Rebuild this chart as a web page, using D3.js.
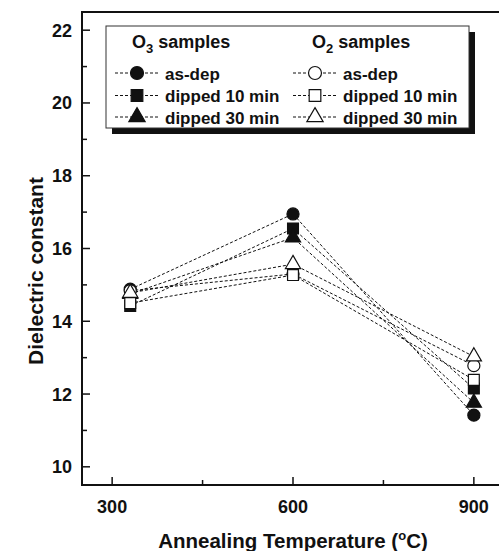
<!DOCTYPE html>
<html>
<head>
<meta charset="utf-8">
<script src="https://cdn.jsdelivr.net/npm/d3@7"></script>
<style>
  body { margin: 0; background: #fff; }
  text { font-family: "Liberation Sans", Arial, sans-serif; font-weight: bold; fill: #111; }
</style>
</head>
<body>
<div id="chart"></div>
<script>
  // annealing temperatures (°C)
  const temps = [330, 600, 900];
  // series, drawn in this order (open markers end up on top)
  const seriesNames = ["O3 as-dep", "O3 dipped 10 min", "O3 dipped 30 min",
                       "O2 as-dep", "O2 dipped 10 min", "O2 dipped 30 min"];
  const o3AsDep = [14.88, 16.95, 11.42];
  const o3Dip10 = [14.42, 16.55, 12.15];
  const o3Dip30 = [14.75, 16.3, 11.76];
  const o2AsDep = [14.84, 15.3, 12.78];
  const o2Dip10 = [14.5, 15.27, 12.39];
  const o2Dip30 = [14.78, 15.57, 13.03];
  const yTicks = [10, 12, 14, 16, 18, 20, 22];
  const xTicks = [300, 600, 900];

  (function () {
    const seriesValues = [o3AsDep, o3Dip10, o3Dip30, o2AsDep, o2Dip10, o2Dip30];
    const shapes = [d3.symbolCircle, d3.symbolSquare, d3.symbolTriangle,
                    d3.symbolCircle, d3.symbolSquare, d3.symbolTriangle];
    const sizeOf = s => s === d3.symbolCircle ? 115 : s === d3.symbolSquare ? 118 : 100;

    const series = seriesNames.map((name, i) => ({
      name: name,
      filled: i < 3,
      shape: shapes[i],
      points: temps.map((t, j) => ({ t: t, v: seriesValues[i][j] }))
    }));

    const W = 499, H = 551;
    const mLeft = 82, mTop = 12, mBottom = 485, mRight = 504;

    const svg = d3.select("#chart").append("svg")
      .attr("width", W)
      .attr("height", H);

    const x = d3.scaleLinear().domain([250, 950]).range([mLeft, mRight]);
    const y = d3.scaleLinear().domain([9.5, 22.5]).range([mBottom, mTop]);

    // frame
    svg.append("rect")
      .attr("x", mLeft).attr("y", mTop)
      .attr("width", mRight - mLeft).attr("height", mBottom - mTop)
      .attr("fill", "none").attr("stroke", "#111").attr("stroke-width", 2);

    // y ticks (inward)
    const yMinor = d3.range(11, 23, 2);
    svg.append("g").selectAll("line").data(yTicks).enter().append("line")
      .attr("x1", mLeft).attr("x2", mLeft + 8)
      .attr("y1", d => y(d)).attr("y2", d => y(d))
      .attr("stroke", "#111").attr("stroke-width", 1.5);
    svg.append("g").selectAll("line").data(yMinor).enter().append("line")
      .attr("x1", mLeft).attr("x2", mLeft + 5)
      .attr("y1", d => y(d)).attr("y2", d => y(d))
      .attr("stroke", "#111").attr("stroke-width", 1.5);
    svg.append("g").selectAll("text").data(yTicks).enter().append("text")
      .attr("x", mLeft - 10).attr("y", d => y(d))
      .attr("dy", "0.36em")
      .attr("text-anchor", "end")
      .style("font-size", "18px")
      .text(d => d);

    // x ticks (inward)
    const xMinor = [450, 750];
    svg.append("g").selectAll("line").data(xTicks).enter().append("line")
      .attr("x1", d => x(d)).attr("x2", d => x(d))
      .attr("y1", mBottom).attr("y2", mBottom - 8)
      .attr("stroke", "#111").attr("stroke-width", 1.5);
    svg.append("g").selectAll("line").data(xMinor).enter().append("line")
      .attr("x1", d => x(d)).attr("x2", d => x(d))
      .attr("y1", mBottom).attr("y2", mBottom - 5)
      .attr("stroke", "#111").attr("stroke-width", 1.5);
    svg.append("g").selectAll("text").data(xTicks).enter().append("text")
      .attr("x", d => x(d)).attr("y", 513)
      .attr("text-anchor", "middle")
      .style("font-size", "18px")
      .text(d => d);

    // axis titles
    const xt = svg.append("text")
      .attr("x", 293).attr("y", 548)
      .attr("text-anchor", "middle")
      .style("font-size", "20.5px");
    xt.append("tspan").text("Annealing Temperature (");
    xt.append("tspan").attr("dy", -8).style("font-size", "13px").text("o");
    xt.append("tspan").attr("dy", 8).text("C)");

    svg.append("text")
      .attr("transform", "translate(43,271) rotate(-90)")
      .attr("text-anchor", "middle")
      .style("font-size", "21px")
      .text("Dielectric constant");

    // dashed lines
    const line = d3.line().x(d => x(d.t)).y(d => y(d.v));
    svg.append("g").selectAll("path").data(series).enter().append("path")
      .attr("d", d => line(d.points))
      .attr("fill", "none")
      .attr("stroke", "#111")
      .attr("stroke-width", 1)
      .attr("stroke-dasharray", "3,2");

    // markers
    series.forEach(s => {
      svg.append("g").selectAll("path").data(s.points).enter().append("path")
        .attr("transform", d => `translate(${x(d.t)},${y(d.v)})`)
        .attr("d", d3.symbol().type(s.shape).size(sizeOf(s.shape)))
        .attr("fill", s.filled ? "#111" : "#fff")
        .attr("stroke", "#111")
        .attr("stroke-width", 1.2);
    });

    // legend
    const lg = svg.append("g");
    lg.append("rect").attr("x", 112).attr("y", 32).attr("width", 363).attr("height", 102).attr("fill", "#111");
    lg.append("rect").attr("x", 106).attr("y", 26).attr("width", 363).attr("height", 102)
      .attr("fill", "#fff").attr("stroke", "#333").attr("stroke-width", 1);

    const headers = [{ x: 132, sub: "3" }, { x: 312, sub: "2" }];
    headers.forEach(h => {
      const t = lg.append("text").attr("x", h.x).attr("y", 48).style("font-size", "18px");
      t.append("tspan").text("O");
      t.append("tspan").attr("dy", 5).style("font-size", "13px").text(h.sub);
      t.append("tspan").attr("dy", -5).text(" samples");
    });

    const rowY = [73, 95.5, 117];
    const labels = ["as-dep", "dipped 10 min", "dipped 30 min"];
    series.forEach((s, i) => {
      const col = s.filled ? 0 : 1;
      const row = i % 3;
      const cx = col === 0 ? 137 : 315;
      const yy = rowY[row];
      lg.append("line")
        .attr("x1", cx - 22).attr("x2", cx + 23)
        .attr("y1", yy).attr("y2", yy)
        .attr("stroke", "#111").attr("stroke-width", 1)
        .attr("stroke-dasharray", "3,2");
      lg.append("path")
        .attr("transform", `translate(${cx},${yy})`)
        .attr("d", d3.symbol().type(s.shape).size(sizeOf(s.shape) * 1.15))
        .attr("fill", s.filled ? "#111" : "#fff")
        .attr("stroke", "#111")
        .attr("stroke-width", 1.2);
      lg.append("text")
        .attr("x", cx + 28).attr("y", yy + 6.5)
        .style("font-size", "17px")
        .text(labels[row]);
    });
  })();
</script>
</body>
</html>
